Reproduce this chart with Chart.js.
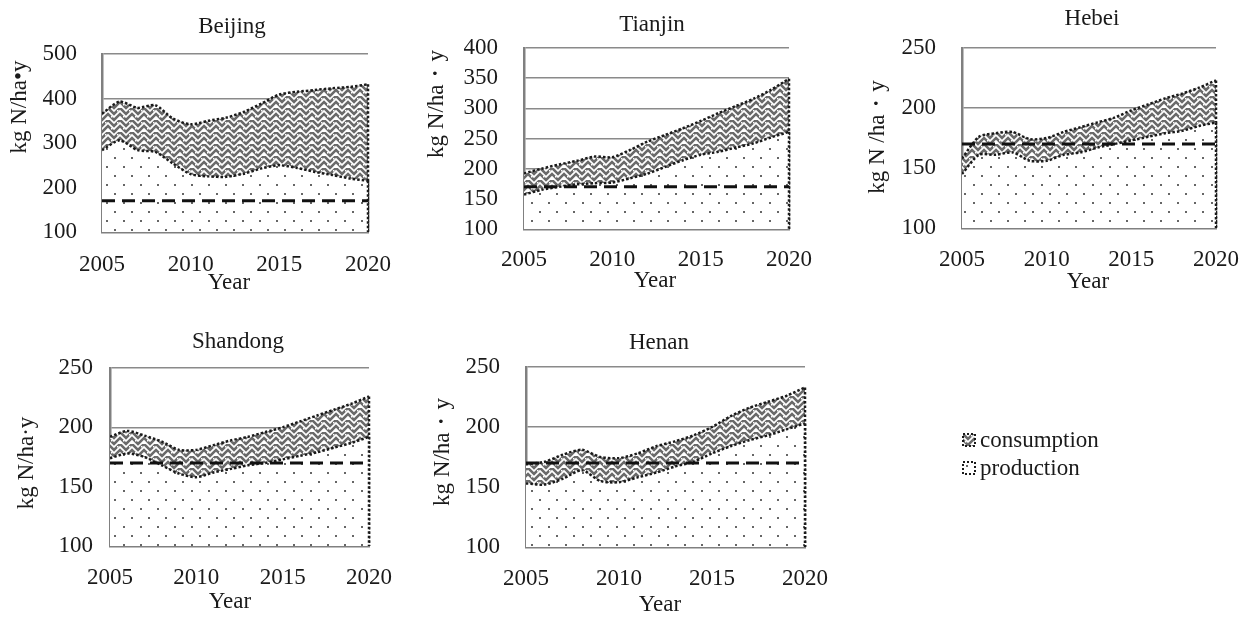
<!DOCTYPE html>
<html><head><meta charset="utf-8">
<script src="https://cdn.jsdelivr.net/npm/chart.js@4.4.1/dist/chart.umd.min.js"></script>
<style>
html,body{margin:0;padding:0;background:#fff;width:1249px;height:617px;overflow:hidden;}
canvas.chart{position:absolute;left:0;top:0;}
.legtext{position:absolute;font-family:'Liberation Serif','Times New Roman',serif;font-size:23px;color:#1a1a1a;line-height:23px;white-space:nowrap;}
.legicon{position:absolute;}
</style></head><body>
<canvas class="chart" id="c0" width="1249" height="617"></canvas>
<canvas class="chart" id="c1" width="1249" height="617"></canvas>
<canvas class="chart" id="c2" width="1249" height="617"></canvas>
<canvas class="chart" id="c3" width="1249" height="617"></canvas>
<canvas class="chart" id="c4" width="1249" height="617"></canvas>
<canvas class="legicon" id="icon0" width="14" height="14" style="left:962px;top:433px"></canvas>
<div class="legtext" style="left:980px;top:428px">consumption</div>
<canvas class="legicon" id="icon1" width="14" height="14" style="left:962px;top:461px"></canvas>
<div class="legtext" style="left:980px;top:456px">production</div>
<script>
// ---- data ----
const years = [2005,2006,2007,2008,2009,2010,2011,2012,2013,2014,2015,2016,2017,2018,2019,2020];
const xTicks = [2005, 2010, 2015, 2020];
const thresholdYears = [2005, 2020];
const thresholdValues = [170, 170];

const beijingConsumption = [366,393,379,385,355,342,350,357,370,389,409,415,419,423,426,432];
const beijingProduction  = [284,306,284,280,254,230,225,224,231,243,250,244,235,228,220,215];
const tianjinConsumption = [192,200,207,213,220,219,231,245,256,267,279,292,304,316,331,349];
const tianjinProduction  = [157,165,170,174,176,177,184,192,203,214,223,228,235,242,252,261];
const hebeiConsumption   = [158,176,179,180,174,175,180,184,188,192,198,203,208,212,217,223];
const hebeiProduction    = [145,161,161,163,156,156,161,163,167,170,173,176,179,181,185,188];
const shandongConsumption= [192,197,193,188,181,181,185,189,192,196,200,205,210,215,220,226];
const shandongProduction = [174,178,175,168,161,158,162,165,168,170,173,176,179,183,187,192];
const henanConsumption   = [169,171,177,181,175,174,178,184,188,193,200,209,216,221,226,233];
const henanProduction    = [153,152,157,164,155,154,158,162,167,171,178,184,189,193,198,203];

const beijingYTicks = [100,200,300,400,500];
const tianjinYTicks = [100,150,200,250,300,350,400];
const hebeiYTicks   = [100,150,200,250];
const shandongYTicks= [100,150,200,250];
const henanYTicks   = [100,150,200,250];

const regionNames = ['Beijing','Tianjin','Hebei','Shandong','Henan'];
const yAxisTitles = ['kg N/ha\u2022y','kg N/ha\u30FBy','kg N /ha\u30FBy','kg N/ha\u00B7y','kg N/ha\u30FBy'];
const xAxisTitle = 'Year';
const seriesNames = ['consumption','production'];

const consumptionByRegion = [beijingConsumption,tianjinConsumption,hebeiConsumption,shandongConsumption,henanConsumption];
const productionByRegion  = [beijingProduction,tianjinProduction,hebeiProduction,shandongProduction,henanProduction];
const yTicksByRegion      = [beijingYTicks,tianjinYTicks,hebeiYTicks,shandongYTicks,henanYTicks];

// ---- layout (page pixels) ----
const layouts = [
  {L:102,R:368,T:54,B:232, title:[232,27], yTitle:[20,107], xTitle:[229,283], xPad:11, yPad:25},
  {L:524,R:789,T:48,B:229, title:[652,25], yTitle:[437,104], xTitle:[655,281], xPad:9, yPad:26},
  {L:962,R:1219,T:48,B:228,title:[1092,19],yTitle:[878,137], xTitle:[1088,282],xPad:10, yPad:26},
  {L:110,R:369,T:368,B:546,title:[238,342],yTitle:[27,463], xTitle:[230,602], xPad:10, yPad:17},
  {L:526,R:805,T:367,B:547,title:[659,343],yTitle:[443,452], xTitle:[660,605], xPad:10, yPad:26}
];

const TEXT = '#1a1a1a';
const FONT = "'Liberation Serif','Times New Roman',serif";
const FS = 23;
Chart.defaults.font.family = FONT;
Chart.defaults.font.size = FS;
Chart.defaults.color = TEXT;

// ---- patterns ----
function dotsPattern(ctx){
  const c=document.createElement('canvas'); c.width=17; c.height=18;
  const g=c.getContext('2d');
  g.fillStyle='#fff'; g.fillRect(0,0,17,18);
  g.fillStyle='#666';
  g.fillRect(4,4,2,2); g.fillRect(12,13,2,2);
  return ctx.createPattern(c,'repeat');
}
function weavePattern(ctx){
  const c=document.createElement('canvas'); c.width=12; c.height=12;
  const g=c.getContext('2d');
  g.fillStyle='#fff'; g.fillRect(0,0,12,12);
  g.strokeStyle='#6a6a6a'; g.lineWidth=2.6;
  for(const y0 of [-6,0,6]){
    g.beginPath(); g.moveTo(-1,y0-1); g.lineTo(6,y0+6); g.lineTo(13,y0-1); g.stroke();
  }
  g.fillStyle='#fff';
  g.fillRect(9,2,1.5,1.5); g.fillRect(3,8,1.5,1.5);
  return ctx.createPattern(c,'repeat');
}

// ---- plugins ----
const textPlugin = {
  id:'texts',
  afterDraw(chart, args, o){
    const ctx=chart.ctx; ctx.save();
    ctx.fillStyle=TEXT; ctx.font=FS+'px '+FONT; ctx.textAlign='center'; ctx.textBaseline='middle';
    ctx.fillText(o.title, o.titleX, o.titleY);
    ctx.fillText(o.xTitle, o.xTitleX, o.xTitleY);
    ctx.translate(o.yTitleX, o.yTitleY); ctx.rotate(-Math.PI/2);
    ctx.fillText(o.yTitle, 0, 0);
    ctx.restore();
  }
};
const edgePlugin = {
  id:'edges',
  afterDatasetDraw(chart, args){
    const ds = chart.data.datasets[args.index];
    if(!ds.fill) return;
    const pts = args.meta.data; const last = pts[pts.length-1];
    const ctx = chart.ctx; ctx.save();
    ctx.strokeStyle = '#1a1a1a'; ctx.lineWidth = 2.5; ctx.setLineDash([2.5,2]);
    ctx.beginPath(); ctx.moveTo(last.x, last.y); ctx.lineTo(last.x, chart.chartArea.bottom); ctx.stroke();
    ctx.restore();
  }
};

// ---- charts ----
regionNames.forEach((name, i) => {
  const lay = layouts[i];
  const canvas = document.getElementById('c'+i);
  const ctx = canvas.getContext('2d');
  const yT = yTicksByRegion[i];
  new Chart(canvas, {
    type:'line',
    data:{ datasets:[
      {label:'threshold', data: thresholdYears.map((x,k)=>({x, y:thresholdValues[k]})),
       borderColor:'#111', borderWidth:3, borderDash:[13,7], pointRadius:0, fill:false, order:0, tension:0},
      {label:seriesNames[1], data: years.map((x,k)=>({x, y:productionByRegion[i][k]})),
       borderColor:'#1a1a1a', borderWidth:2.5, borderDash:[2.5,2], backgroundColor:dotsPattern(ctx),
       fill:'start', pointRadius:0, order:1, tension:0.25},
      {label:seriesNames[0], data: years.map((x,k)=>({x, y:consumptionByRegion[i][k]})),
       borderColor:'#1a1a1a', borderWidth:2.5, borderDash:[2.5,2], backgroundColor:weavePattern(ctx),
       fill:'start', pointRadius:0, order:2, tension:0.25}
    ]},
    options:{
      responsive:false, animation:false, events:[],
      layout:{padding:{left:lay.L-60, right:1249-lay.R, top:lay.T, bottom:617-lay.B-40}},
      plugins:{
        legend:{display:false}, tooltip:{enabled:false},
        texts:{title:name, titleX:lay.title[0], titleY:lay.title[1],
               yTitle:yAxisTitles[i], yTitleX:lay.yTitle[0], yTitleY:lay.yTitle[1],
               xTitle:xAxisTitle, xTitleX:lay.xTitle[0], xTitleY:lay.xTitle[1]}
      },
      scales:{
        x:{type:'linear', min:years[0], max:years[years.length-1],
           afterBuildTicks:s=>{ s.ticks = xTicks.map(v=>({value:v})); },
           ticks:{callback:v=>String(v), padding:lay.xPad, maxRotation:0, autoSkip:false, color:TEXT, font:{size:FS}},
           grid:{display:false}, border:{display:true, color:'#808080', width:2.5},
           afterFit:s=>{ s.height=40; }},
        y:{min:yT[0], max:yT[yT.length-1],
           afterBuildTicks:s=>{ s.ticks = yT.map(v=>({value:v})); },
           ticks:{padding:lay.yPad, color:TEXT, font:{size:FS}, autoSkip:false},
           grid:{color:'#8a8a8a', lineWidth:1.5, drawTicks:false},
           border:{display:true, color:'#808080', width:2.5},
           afterFit:s=>{ s.width=60; }}
      }
    },
    plugins:[textPlugin, edgePlugin]
  });
});

// ---- legend icons ----
function drawIcon(id, pat){
  const c=document.getElementById(id); const g=c.getContext('2d');
  g.fillStyle = pat(g); g.fillRect(1,1,12,12);
  g.strokeStyle='#1a1a1a'; g.lineWidth=2; g.setLineDash([2,2]);
  g.strokeRect(1,1,12,12);
}
drawIcon('icon0', weavePattern);
drawIcon('icon1', dotsPattern);
</script>
</body></html>
